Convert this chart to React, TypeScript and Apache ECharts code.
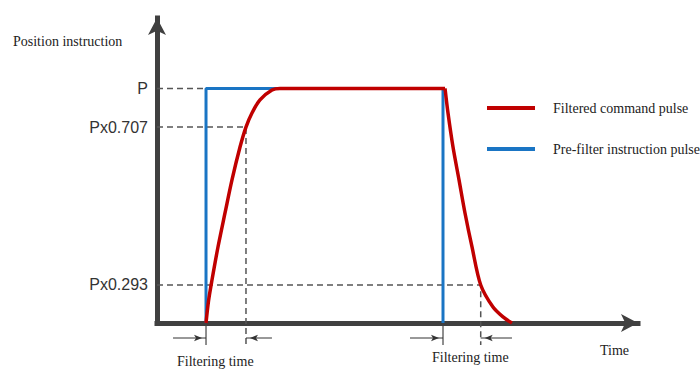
import React, { useEffect, useRef } from "react";
import * as echarts from "echarts";

// Y levels (chart units, P = 1) and their tick labels
const levelValues = [0.162, 0.835, 1];
const levelLabels = ["Px0.293", "Px0.707", "P"];

// Pre-filter instruction pulse (square pulse)
const preFilterT = [10.19, 10.19, 59.46, 59.46];
const preFilterV = [0, 1, 1, 0];

// Filtered command pulse: rise + plateau
const filteredRiseT = [10.19, 10.71, 11.43, 12.68, 14.14, 15.59, 17.26, 18.5, 19.75, 21.41, 23.91, 25.57, 59.88];
const filteredRiseV = [0, 0.094, 0.183, 0.324, 0.469, 0.61, 0.75, 0.835, 0.895, 0.951, 0.993, 1, 1];
// Filtered command pulse: fall
const filteredFallT = [59.88, 60.5, 61.54, 62.79, 64.03, 65.49, 67.3, 69.85, 71.93, 73.8];
const filteredFallV = [1, 0.895, 0.75, 0.61, 0.469, 0.324, 0.162, 0.068, 0.026, 0];

// Key times
const riseStartT = 10.19;
const riseMarkT = 18.5;
const fallStartT = 59.46;
const fallMarkT = 67.3;
const belowAxisV = -0.094;
const arrowV = -0.064;
const arrowTailsLeft = [3.33, 52.6];
const arrowTailsRight = [23.9, 73.8];

const seriesNames = ["Filtered command pulse", "Pre-filter instruction pulse"];

const zip = (a: number[], b: number[]) => a.map((v, i) => [v, b[i]]);

export default function App() {
  const ref = useRef<HTMLDivElement>(null);
  useEffect(() => {
    if (!ref.current) return;
    const chart = echarts.init(ref.current, null, { renderer: "svg" });
    const dashStyle = { color: "#555", width: 1.5, type: [6, 4] as any };
    const guide = (data: number[][]) => ({
      type: "line",
      data,
      symbol: "none",
      clip: false,
      silent: true,
      lineStyle: dashStyle,
      z: 1,
    });
    const tick = (t: number) => ({
      type: "line",
      data: [[t, 0], [t, belowAxisV]],
      symbol: "none",
      clip: false,
      silent: true,
      lineStyle: { color: "#444", width: 1.2 },
      z: 1,
    });
    const arrow = (from: number, to: number) => {
      const right = to > from;
      return {
        type: "line",
        clip: false,
        silent: true,
        z: 1,
        lineStyle: { color: "#333", width: 1 },
        itemStyle: { color: "#333" },
        data: [
          { value: [from, arrowV], symbol: "none" },
          {
            value: [to, arrowV],
            symbol: "arrow",
            symbolSize: [5, 8],
            symbolRotate: right ? -90 : 90,
            symbolOffset: [right ? -4 : 4, 0],
          },
        ],
      };
    };
    const red = "#c00000";
    const blue = "#1a75c4";
    const textFont = "14px 'Liberation Serif'";

    const option: any = {
      animation: false,
      grid: { left: 157, right: 62, top: 18, bottom: 48, outerBoundsMode: "none" },
      xAxis: {
        type: "value",
        min: 0,
        max: 100,
        axisLine: {
          show: true,
          onZero: true,
          symbol: ["none", "arrow"],
          symbolSize: [13.5, 17],
          lineStyle: { color: "#404040", width: 5, cap: "square" },
        },
        axisTick: { show: false },
        axisLabel: { show: false },
        splitLine: { show: false },
      },
      yAxis: {
        type: "value",
        min: 0,
        max: 1.3,
        axisLine: {
          show: true,
          onZero: true,
          symbol: ["none", "arrow"],
          symbolSize: [13.5, 17],
          lineStyle: { color: "#404040", width: 5, cap: "square" },
        },
        axisTick: { show: false },
        splitLine: { show: false },
        axisLabel: {
          show: true,
          customValues: levelValues,
          margin: 9,
          fontFamily: "Liberation Sans",
          fontSize: 16,
          color: "#333",
          formatter: (v: number) => {
            const i = levelValues.findIndex((x) => Math.abs(x - v) < 1e-6);
            return i >= 0 ? levelLabels[i] : "";
          },
        },
      },
      legend: {
        data: seriesNames,
        orient: "vertical",
        left: 487,
        top: 100,
        padding: 0,
        itemWidth: 48,
        itemHeight: 4,
        itemGap: 25,
        icon: "rect",
        selectedMode: false,
        textStyle: {
          fontFamily: "Liberation Serif",
          fontSize: 14,
          color: "#222",
          lineHeight: 16,
          padding: [0, 0, 0, 13],
        },
      },
      graphic: [
        { type: "text", x: 13, y: 41, style: { text: "Position instruction", fill: "#222", font: textFont, verticalAlign: "middle" } },
        { type: "text", x: 177, y: 361, style: { text: "Filtering time", fill: "#222", font: textFont, verticalAlign: "middle" } },
        { type: "text", x: 432, y: 357, style: { text: "Filtering time", fill: "#222", font: textFont, verticalAlign: "middle" } },
        { type: "text", x: 600, y: 350, style: { text: "Time", fill: "#222", font: textFont, verticalAlign: "middle" } },
      ],
      series: [
        guide([[0, levelValues[2]], [riseStartT, levelValues[2]]]),
        guide([[0, levelValues[1]], [riseMarkT, levelValues[1]], [riseMarkT, belowAxisV]]),
        guide([[0, levelValues[0]], [fallMarkT, levelValues[0]], [fallMarkT, belowAxisV]]),
        tick(riseStartT),
        tick(fallStartT),
        arrow(arrowTailsLeft[0], riseStartT),
        arrow(arrowTailsRight[0], riseMarkT),
        arrow(arrowTailsLeft[1], fallStartT),
        arrow(arrowTailsRight[1], fallMarkT),
        {
          name: seriesNames[1],
          type: "line",
          data: zip(preFilterT, preFilterV),
          symbol: "none",
          lineStyle: { color: blue, width: 3 },
          itemStyle: { color: blue },
          z: 2,
        },
        {
          name: seriesNames[0],
          type: "line",
          data: zip(filteredRiseT, filteredRiseV),
          symbol: "none",
          smooth: 0.3,
          lineStyle: { color: red, width: 3.5, join: "round" },
          itemStyle: { color: red },
          z: 3,
        },
        {
          name: seriesNames[0],
          type: "line",
          data: zip(filteredFallT, filteredFallV),
          symbol: "none",
          smooth: 0.3,
          lineStyle: { color: red, width: 3.5, join: "round" },
          itemStyle: { color: red },
          z: 3,
        },
      ],
    };
    chart.setOption(option);
    return () => chart.dispose();
  }, []);
  return (
    <div
      ref={ref}
      style={{ position: "fixed", left: 0, top: 0, width: 700, height: 371, background: "#fff" }}
    />
  );
}
